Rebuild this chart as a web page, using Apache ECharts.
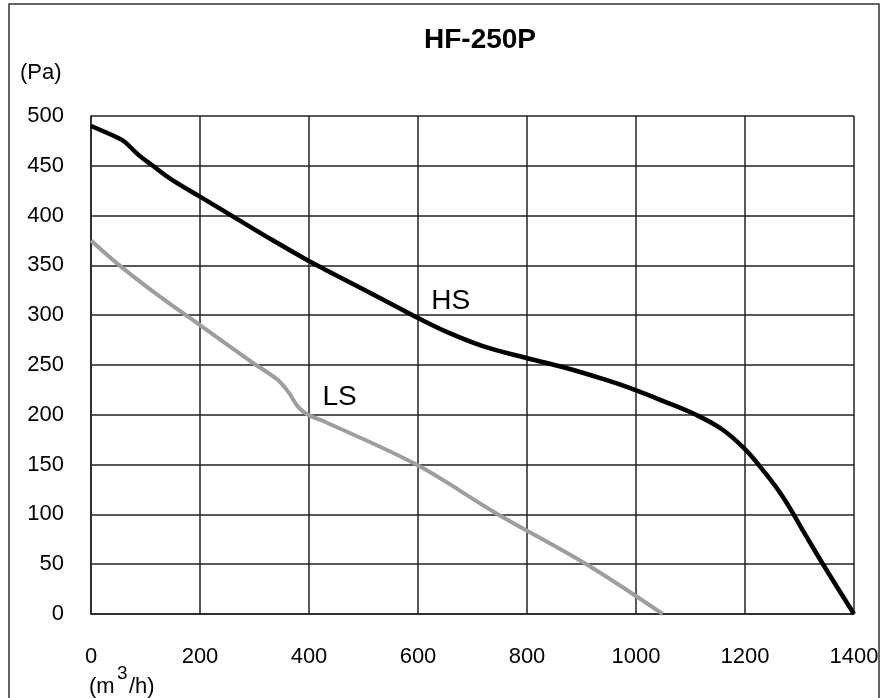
<!DOCTYPE html>
<html>
<head>
<meta charset="utf-8">
<script src="https://cdn.jsdelivr.net/npm/echarts/dist/echarts.min.js"></script>
<style>
html,body{margin:0;padding:0;background:#fff;}
#c{width:884px;height:698px;}
</style>
</head>
<body>
<div id="c"></div>
<script>
// ---- data ----
const title = 'HF-250P';
const xTicks = [0, 200, 400, 600, 800, 1000, 1200, 1400];
const yTicks = [0, 50, 100, 150, 200, 250, 300, 350, 400, 450, 500];
const hsX = [0, 50, 62, 87, 111, 148, 200, 258, 331, 398, 429, 566, 597, 658, 719, 799, 872, 945, 988, 1049, 1110, 1159, 1199, 1232, 1269, 1306, 1342, 1400];
const hsY = [490, 478, 474, 461, 451, 436, 419, 400, 376, 355, 346, 307, 298, 282, 269, 257, 247, 235, 227, 214, 200, 185, 166, 145, 118, 84, 51, 0];
const lsX = [0, 50, 111, 200, 295, 343, 362, 380, 398, 429, 597, 744, 909, 1049];
const lsY = [375, 351, 325, 290, 253, 235, 223, 208, 200, 193, 150, 101, 50, 0];
const hsLabelAt = [660, 314];
const lsLabelAt = [456, 218];

const FONT = '"Liberation Sans", Arial, sans-serif';
const hsData = hsX.map((x, i) => [x, hsY[i]]);
const lsData = lsX.map((x, i) => [x, lsY[i]]);

const chart = echarts.init(document.getElementById('c'), null, {renderer: 'canvas'});
const gridLine = {show: true, lineStyle: {color: '#222', width: 1.5}};
chart.setOption({
  backgroundColor: '#fff',
  animation: false,
  grid: {left: 91, right: 30, top: 116, bottom: 84, containLabel: false},
  xAxis: {
    type: 'value', min: xTicks[0], max: xTicks[xTicks.length - 1], interval: 200,
    axisLine: {show: true, lineStyle: {color: '#222', width: 1.5}},
    axisTick: {show: false},
    splitLine: gridLine,
    axisLabel: {color: '#000', fontSize: 22, fontFamily: FONT, margin: 32, formatter: v => String(v)}
  },
  yAxis: {
    type: 'value', min: yTicks[0], max: yTicks[yTicks.length - 1], interval: 50,
    axisLine: {show: true, lineStyle: {color: '#222', width: 1.5}},
    axisTick: {show: false},
    splitLine: gridLine,
    axisLabel: {color: '#000', fontSize: 22, fontFamily: FONT, margin: 27, padding: [6, 0, 0, 0], formatter: v => String(v)}
  },
  series: [
    {
      name: 'HS', type: 'line', data: hsData, smooth: 0.4, symbol: 'none',
      lineStyle: {color: '#000', width: 4.5},
      markPoint: {
        symbol: 'circle', symbolSize: 0,
        data: [{coord: hsLabelAt, value: 'HS'}],
        label: {show: true, position: 'inside', formatter: 'HS', color: '#000', fontSize: 28, fontFamily: FONT}
      }
    },
    {
      name: 'LS', type: 'line', data: lsData, smooth: 0.35, symbol: 'none',
      lineStyle: {color: '#9e9e9e', width: 4},
      markPoint: {
        symbol: 'circle', symbolSize: 0,
        data: [{coord: lsLabelAt, value: 'LS'}],
        label: {show: true, position: 'inside', formatter: 'LS', color: '#000', fontSize: 28, fontFamily: FONT}
      }
    }
  ],
  graphic: [
    {type: 'rect', shape: {x: 9, y: 4, width: 870, height: 720}, style: {fill: 'none', stroke: '#333', lineWidth: 1.5}, z: -1, silent: true},
    {type: 'text', x: 480, y: 40, style: {text: title, fill: '#000', font: 'bold 28px ' + FONT, textAlign: 'center', textVerticalAlign: 'middle'}},
    {type: 'text', x: 20, y: 73, style: {text: '(Pa)', fill: '#000', font: '22px ' + FONT, textAlign: 'left', textVerticalAlign: 'middle'}},
    {type: 'text', x: 89, y: 687, style: {text: '(m', fill: '#000', font: '22px ' + FONT, textAlign: 'left', textVerticalAlign: 'middle'}},
    {type: 'text', x: 117, y: 674, style: {text: '3', fill: '#000', font: '19px ' + FONT, textAlign: 'left', textVerticalAlign: 'middle'}},
    {type: 'text', x: 129, y: 687, style: {text: '/h)', fill: '#000', font: '22px ' + FONT, textAlign: 'left', textVerticalAlign: 'middle'}}
  ]
});
</script>
</body>
</html>
